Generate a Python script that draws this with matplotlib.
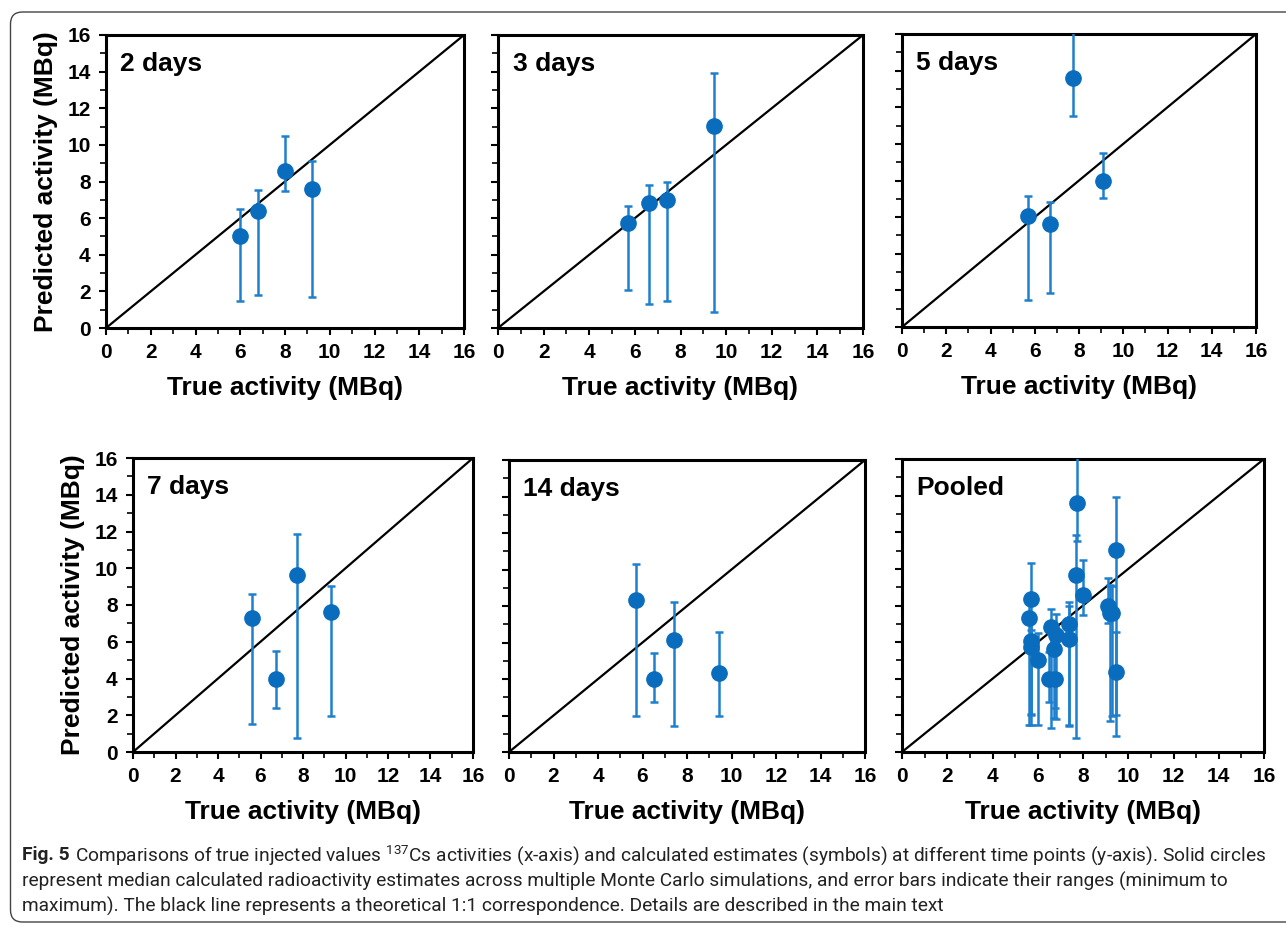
import matplotlib
matplotlib.use('Agg')
import matplotlib.pyplot as plt
from matplotlib.patches import FancyBboxPatch
from matplotlib.transforms import IdentityTransform
from matplotlib.ticker import MultipleLocator
import numpy as np

plt.rcParams['font.family'] = ['Liberation Sans', 'DejaVu Sans']

# true activity (x), median estimate (y), min / max of the simulations
days2_x = [6.0, 6.8, 8.0, 9.2]
days2_y = [5.05, 6.4, 8.55, 7.6]
days2_lo = [1.45, 1.8, 7.5, 1.7]
days2_hi = [6.5, 7.55, 10.5, 9.1]

days3_x = [5.7, 6.6, 7.4, 9.45]
days3_y = [5.75, 6.85, 7.0, 11.05]
days3_lo = [2.1, 1.3, 1.5, 0.85]
days3_hi = [6.65, 7.8, 7.95, 13.9]

days5_x = [5.7, 6.7, 7.75, 9.1]
days5_y = [6.05, 5.6, 13.6, 8.0]
days5_lo = [1.5, 1.85, 11.5, 7.05]
days5_hi = [7.15, 6.85, 17.0, 9.5]

days7_x = [5.6, 6.75, 7.7, 9.3]
days7_y = [7.3, 4.0, 9.65, 7.6]
days7_lo = [1.5, 2.4, 0.75, 1.95]
days7_hi = [8.6, 5.5, 11.85, 9.05]

days14_x = [5.7, 6.5, 7.4, 9.45]
days14_y = [8.35, 4.0, 6.15, 4.35]
days14_lo = [2.0, 2.75, 1.4, 2.0]
days14_hi = [10.3, 5.45, 8.2, 6.55]

panels = [
    ('2 days', days2_x, days2_y, days2_lo, days2_hi),
    ('3 days', days3_x, days3_y, days3_lo, days3_hi),
    ('5 days', days5_x, days5_y, days5_lo, days5_hi),
    ('7 days', days7_x, days7_y, days7_lo, days7_hi),
    ('14 days', days14_x, days14_y, days14_lo, days14_hi),
]
# pooled = all time points together
panels.append(('Pooled',
               sum([p[1] for p in panels], []),
               sum([p[2] for p in panels], []),
               sum([p[3] for p in panels], []),
               sum([p[4] for p in panels], [])))

caption_bold = 'Fig. 5'
caption_lines = [
    r'Comparisons of true injected values $\mathregular{^{137}}$Cs activities '
    '(x-axis) and calculated estimates (symbols) at different time points '
    '(y-axis). Solid circles',
    'represent median calculated radioactivity estimates across multiple '
    'Monte Carlo simulations, and error bars indicate their ranges (minimum to',
    'maximum). The black line represents a theoretical 1:1 correspondence. '
    'Details are described in the main text',
]

W, H = 1286, 925
# axes boxes in pixels: left, top, right, bottom
boxes = [(106, 35, 464, 328), (498, 35, 863, 328), (902, 34, 1256, 327),
         (133, 458, 473, 752), (509, 460, 865, 752), (902, 459, 1264, 752)]

fig = plt.figure(figsize=(W / 100, H / 100), dpi=100)

marker_col = '#0a6cbd'
bar_col = '#1e80cc'

for i, (name, x, y, lo, hi) in enumerate(panels):
    l, t, r, b = boxes[i]
    ax = fig.add_axes([l / W, (H - b) / H, (r - l) / W, (b - t) / H])
    x = np.array(x); y = np.array(y)
    lo = np.array(lo); hi = np.array(hi)
    ax.plot([0, 16], [0, 16], color='black', lw=1.6, zorder=2)
    ax.errorbar(x, y, yerr=[y - lo, hi - y], fmt='o', color=marker_col,
                ecolor=bar_col, elinewidth=1.8, capsize=2.8, capthick=1.8,
                markersize=11, zorder=3)
    ax.set_xlim(0, 16)
    ax.set_ylim(0, 16)
    ax.xaxis.set_major_locator(MultipleLocator(2))
    ax.yaxis.set_major_locator(MultipleLocator(2))
    ax.xaxis.set_minor_locator(MultipleLocator(1))
    ax.yaxis.set_minor_locator(MultipleLocator(1))
    ax.tick_params(which='major', direction='out', length=5, width=1.5,
                   labelsize=15, pad=6)
    ax.tick_params(which='minor', direction='out', length=4, width=1.2)
    for lab in ax.get_xticklabels() + ax.get_yticklabels():
        lab.set_fontweight('bold')
    for s in ax.spines.values():
        s.set_linewidth(2.2)
    ax.set_xlabel('True activity (MBq)', fontsize=19, fontweight='bold',
                  labelpad=10)
    if i in (0, 3):
        ax.set_ylabel('Predicted activity (MBq)', fontsize=19,
                      fontweight='bold', labelpad=7)
    else:
        ax.tick_params(axis='y', labelleft=False)
    ax.text(0.04, 0.9, name, transform=ax.transAxes, fontsize=19,
            fontweight='bold', va='center', ha='left')

# rounded frame around figure and caption
frame = FancyBboxPatch((10.5, 3), 1320, 910,
                       boxstyle='round,pad=0,rounding_size=12',
                       transform=IdentityTransform(), fill=False,
                       edgecolor='#444444', lw=1.0)
fig.add_artist(frame)

# caption: size chosen so that the first line spans the same width as the reference
cap_font = ['Roboto', 'DejaVu Sans']
renderer = fig.canvas.get_renderer()
probe_b = fig.text(0, 0, caption_bold, fontsize=10, fontweight='bold', family=cap_font)
probe_r = fig.text(0, 0, caption_lines[0], fontsize=10, family=cap_font)
w10 = probe_b.get_window_extent(renderer).width + probe_r.get_window_extent(renderer).width
probe_b.remove(); probe_r.remove()
cap_size = 10 * (1243 - 5) / w10

ys = [855, 881, 906]
t1 = fig.text(22 / W, 1 - ys[0] / H, caption_bold, fontsize=cap_size,
              fontweight='bold', family=cap_font, va='center', color='#222222')
bb = t1.get_window_extent(renderer)
fig.text((bb.x1 + 5) / W, 1 - ys[0] / H, caption_lines[0], fontsize=cap_size,
         family=cap_font, va='center', color='#222222')
for k in (1, 2):
    fig.text(22 / W, 1 - ys[k] / H, caption_lines[k], fontsize=cap_size,
             family=cap_font, va='center', color='#222222')

fig.savefig('out.png', dpi=100)
